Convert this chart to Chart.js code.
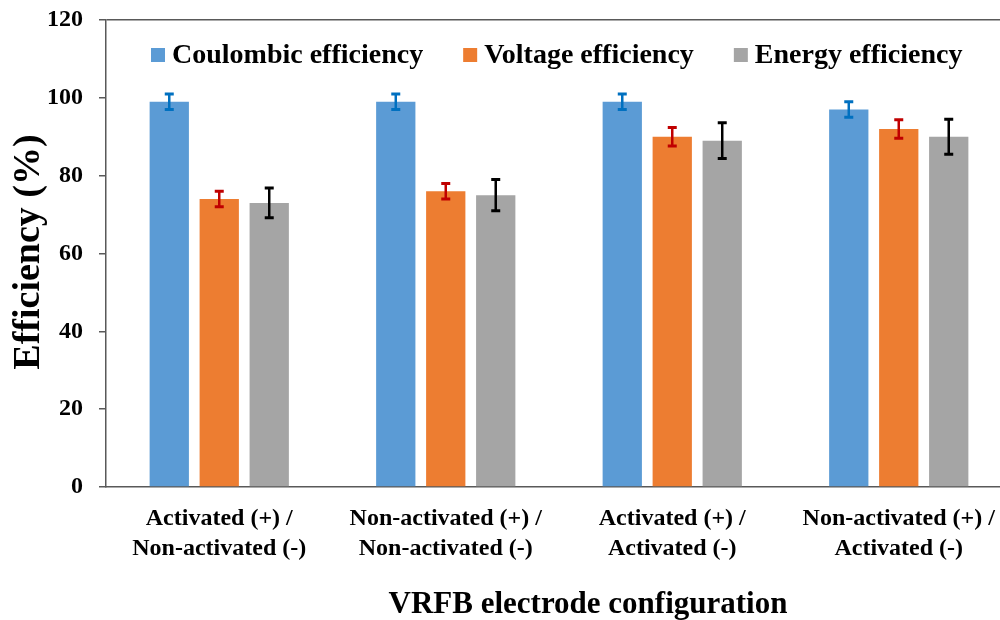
<!DOCTYPE html>
<html>
<head>
<meta charset="utf-8">
<script src="https://cdn.jsdelivr.net/npm/chart.js@4/dist/chart.umd.min.js"></script>
<style>
  html, body { margin: 0; padding: 0; background: #fff; overflow: hidden; }
  #wrap { width: 1000px; height: 620px; overflow: hidden; position: relative; }
  canvas { display: block; }
</style>
</head>
<body>
<div id="wrap"><canvas id="c" width="1020" height="620"></canvas></div>
<script>
// Electrode configurations (two-line category labels)
const categories = [
  ['Activated (+) /', 'Non-activated (-)'],
  ['Non-activated (+) /', 'Non-activated (-)'],
  ['Activated (+) /', 'Activated (-)'],
  ['Non-activated (+) /', 'Activated (-)']
];
const seriesNames = ['Coulombic efficiency', 'Voltage efficiency', 'Energy efficiency'];

// Mean efficiencies (%) and their error ranges
const coulombic = [99, 99, 99, 97];
const coulombicErr = [2, 2, 2, 2];
const voltage = [74, 76, 90, 92];
const voltageErr = [2, 2, 2.4, 2.4];
const energy = [73, 75, 89, 90];
const energyErr = [3.8, 4, 4.6, 4.5];

const yTicks = [0, 20, 40, 60, 80, 100, 120];
const yTitle = 'Efficiency (%)';
const xTitle = 'VRFB electrode configuration';

const FONT = '"Liberation Serif", "Times New Roman", serif';
const barColors = ['#5B9BD5', '#ED7D31', '#A5A5A5'];
const errColors = ['#0070C0', '#C00000', '#000000'];
const errValues = [coulombicErr, voltageErr, energyErr];

// Error bars with flat caps, drawn from each bar's value
const errorBars = {
  id: 'errorBars',
  afterDatasetsDraw(chart) {
    const ctx = chart.ctx;
    const y = chart.scales.y;
    chart.data.datasets.forEach((ds, i) => {
      const meta = chart.getDatasetMeta(i);
      meta.data.forEach((bar, j) => {
        const v = ds.data[j], e = errValues[i][j];
        const top = y.getPixelForValue(v + e);
        const bot = y.getPixelForValue(v - e);
        ctx.save();
        ctx.strokeStyle = errColors[i];
        ctx.lineWidth = 2.5;
        ctx.beginPath();
        ctx.moveTo(bar.x, top); ctx.lineTo(bar.x, bot);
        ctx.stroke();
        ctx.lineWidth = 3;
        ctx.beginPath();
        ctx.moveTo(bar.x - 4.5, top); ctx.lineTo(bar.x + 4.5, top);
        ctx.moveTo(bar.x - 4.5, bot); ctx.lineTo(bar.x + 4.5, bot);
        ctx.stroke();
        ctx.restore();
      });
    });
  }
};

// Legend row inside the plot and the two axis titles
const decorations = {
  id: 'decorations',
  afterDraw(chart) {
    const ctx = chart.ctx;
    ctx.save();
    ctx.fillStyle = '#000';
    ctx.font = 'bold 28px ' + FONT;
    ctx.textBaseline = 'middle';
    ctx.textAlign = 'left';
    let x = 151;
    const ly = 55;
    chart.data.datasets.forEach((ds, i) => {
      ctx.fillStyle = ds.backgroundColor;
      ctx.fillRect(x, ly - 7, 14, 14);
      ctx.fillStyle = '#000';
      ctx.fillText(ds.label, x + 21, ly + 1);
      x += 21 + ctx.measureText(ds.label).width + 40;
    });

    ctx.font = 'bold 31px ' + FONT;
    ctx.textAlign = 'center';
    ctx.textBaseline = 'alphabetic';
    ctx.fillText(xTitle, 588, 613);

    ctx.translate(39, 252);
    ctx.rotate(-Math.PI / 2);
    ctx.font = 'bold 38px ' + FONT;
    ctx.fillText(yTitle, 0, 0);
    ctx.restore();
  }
};

new Chart(document.getElementById('c'), {
  type: 'bar',
  data: {
    labels: categories,
    datasets: [
      { label: seriesNames[0], data: coulombic, backgroundColor: barColors[0] },
      { label: seriesNames[1], data: voltage, backgroundColor: barColors[1] },
      { label: seriesNames[2], data: energy, backgroundColor: barColors[2] }
    ]
  },
  options: {
    responsive: false,
    devicePixelRatio: 1,
    animation: false,
    layout: { padding: { top: 20, right: 8, left: 0, bottom: 0 } },
    datasets: { bar: { categoryPercentage: 0.662, barPercentage: 0.786 } },
    plugins: { legend: { display: false }, tooltip: { enabled: false } },
    scales: {
      x: {
        afterFit(s) { s.height = 133; s.paddingLeft = 0; s.paddingRight = 0; },
        grid: { display: false, drawTicks: false },
        border: { display: true, color: '#595959', width: 1.5 },
        ticks: {
          color: '#000',
          padding: 17,
          maxRotation: 0,
          autoSkip: false,
          font: { family: FONT, size: 24, weight: 'bold', lineHeight: 1.25 }
        }
      },
      y: {
        min: 0,
        max: 120,
        afterFit(s) { s.width = 106; s.paddingTop = 0; s.paddingBottom = 0; },
        afterBuildTicks(s) { s.ticks = yTicks.map(v => ({ value: v })); },
        grid: {
          color: c => (c.tick && c.tick.value === 120 ? '#595959' : 'rgba(0,0,0,0)'),
          lineWidth: 1.5,
          tickColor: '#595959',
          tickLength: 7,
          drawTicks: true
        },
        border: { display: true, color: '#595959', width: 1.5 },
        ticks: {
          color: '#000',
          padding: 16,
          font: { family: FONT, size: 24, weight: 'bold' }
        }
      }
    }
  },
  plugins: [errorBars, decorations]
});
</script>
</body>
</html>
